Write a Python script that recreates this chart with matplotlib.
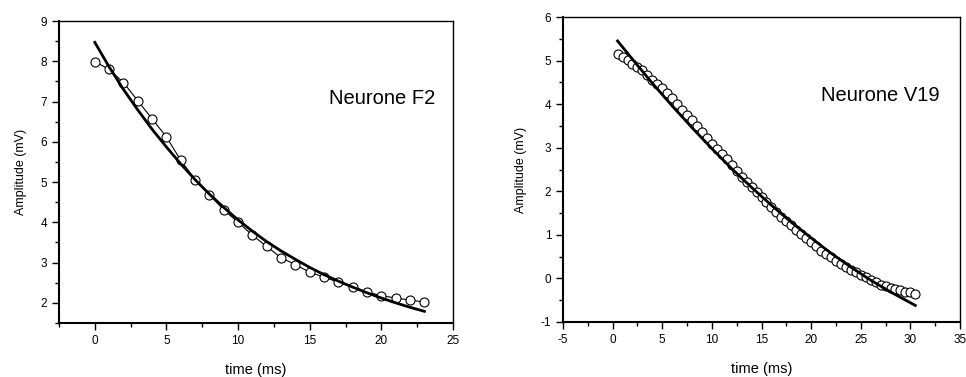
import matplotlib.pyplot as plt
from matplotlib.ticker import MultipleLocator
import numpy as np

plt.rcParams['font.family'] = ['Liberation Sans', 'DejaVu Sans']
plt.rcParams['axes.unicode_minus'] = False

# Neurone F2: measured points and fitted curve
f2_t = list(range(0, 24))
f2_amp = [7.99, 7.80, 7.47, 7.02, 6.57, 6.12, 5.54, 5.06, 4.68, 4.31, 4.00, 3.68,
          3.40, 3.12, 2.95, 2.76, 2.64, 2.51, 2.40, 2.27, 2.18, 2.12, 2.07, 2.02]
f2_fit_t = list(range(0, 24))
f2_fit = [8.47, 7.86, 7.30, 6.79, 6.31, 5.87, 5.45, 5.06, 4.70, 4.37, 4.06, 3.78,
          3.52, 3.29, 3.08, 2.88, 2.70, 2.54, 2.39, 2.25, 2.12, 2.00, 1.89, 1.79]

# Neurone V19: measured points and fitted curve
v19_t = [0.5 * i for i in range(1, 62)]
v19_amp = [5.16, 5.08, 5.01, 4.93, 4.86, 4.78, 4.67, 4.56, 4.46, 4.36,
           4.25, 4.13, 4.00, 3.87, 3.75, 3.63, 3.50, 3.36, 3.23, 3.09,
           2.97, 2.85, 2.73, 2.60, 2.46, 2.33, 2.21, 2.10, 1.98, 1.87,
           1.75, 1.64, 1.53, 1.42, 1.32, 1.22, 1.12, 1.03, 0.93, 0.84,
           0.74, 0.64, 0.56, 0.49, 0.41, 0.34, 0.27, 0.20, 0.14, 0.09,
           0.03, -0.03, -0.09, -0.14, -0.18, -0.21, -0.24, -0.27, -0.30, -0.32,
           -0.35]
v19_fit_t = [0.5, 2, 4, 6, 8, 10, 12, 14, 16, 18, 20, 22, 24, 26, 28, 30.5]
v19_fit = [5.45, 5.03, 4.48, 3.96, 3.46, 2.98, 2.52, 2.09, 1.68, 1.29,
           0.93, 0.58, 0.26, -0.04, -0.31, -0.62]


def style_axes(ax):
    ax.spines['left'].set_linewidth(1.5)
    ax.spines['bottom'].set_linewidth(1.5)
    ax.spines['top'].set_linewidth(1.0)
    ax.spines['right'].set_linewidth(1.0)
    ax.tick_params(which='both', direction='out', top=False, right=False,
                   width=1.0, labelsize=8.5, colors='black')
    ax.tick_params(which='major', length=5)
    ax.tick_params(which='minor', length=3)
    ax.set_xlabel('time (ms)', fontsize=10.5, labelpad=12)
    ax.set_ylabel('Amplitude (mV)', fontsize=9, labelpad=10)


fig = plt.figure(figsize=(9.66, 3.77), dpi=100)
ax1 = fig.add_axes([59 / 966, 1 - 323 / 377, 394 / 966, 302 / 377])
ax2 = fig.add_axes([563 / 966, 1 - 322 / 377, 397 / 966, 305 / 377])

ax1.plot(f2_t, f2_amp, color='black', linewidth=0.8, marker='o', markersize=6.5,
         markerfacecolor='white', markeredgecolor='black', markeredgewidth=0.8, zorder=2)
ax1.plot(f2_fit_t, f2_fit, color='black', linewidth=2.0, zorder=3)
ax1.set_xlim(-2.5, 25)
ax1.set_ylim(1.5, 9)
ax1.xaxis.set_major_locator(MultipleLocator(5))
ax1.xaxis.set_minor_locator(MultipleLocator(2.5))
ax1.yaxis.set_major_locator(MultipleLocator(1))
ax1.yaxis.set_minor_locator(MultipleLocator(0.5))
style_axes(ax1)
ax1.text(0.685, 0.725, 'Neurone F2', transform=ax1.transAxes, fontsize=14.5)

ax2.plot(v19_t, v19_amp, color='black', linewidth=0.8, marker='o', markersize=6.5,
         markerfacecolor='white', markeredgecolor='black', markeredgewidth=0.8, zorder=2)
ax2.plot(v19_fit_t, v19_fit, color='black', linewidth=2.0, zorder=3)
ax2.set_xlim(-5, 35)
ax2.set_ylim(-1, 6)
ax2.xaxis.set_major_locator(MultipleLocator(5))
ax2.xaxis.set_minor_locator(MultipleLocator(2.5))
ax2.yaxis.set_major_locator(MultipleLocator(1))
ax2.yaxis.set_minor_locator(MultipleLocator(0.5))
style_axes(ax2)
ax2.text(0.65, 0.725, 'Neurone V19', transform=ax2.transAxes, fontsize=14.5)

plt.savefig('out.png', dpi=100)
